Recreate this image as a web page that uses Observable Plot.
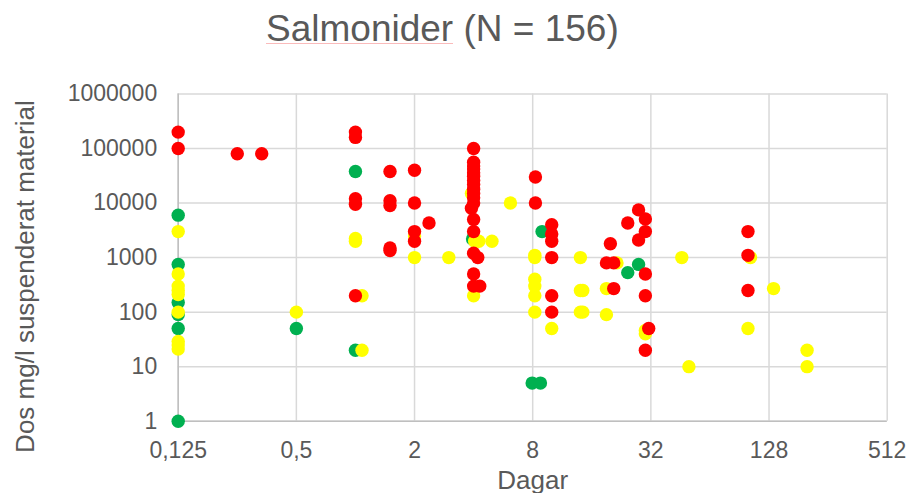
<!DOCTYPE html>
<html>
<head>
<meta charset="utf-8">
<script src="https://cdn.jsdelivr.net/npm/d3@7"></script>
<script src="https://cdn.jsdelivr.net/npm/@observablehq/plot@0.6"></script>
<style>
  body { margin: 0; background: #ffffff; }
  #wrap { position: relative; width: 911px; height: 493px; font-family: "Liberation Sans", Arial, sans-serif; }
  #title { position: absolute; left: 266px; top: 10.4px; font-size: 37px; line-height: 37px; color: #595959; white-space: nowrap; }
  #squiggle { position: absolute; height: 1px; background: rgba(240, 60, 60, 0.35); }
</style>
</head>
<body>
<div id="wrap">
  <div id="title"><span id="sp">Salmonider</span> (N = 156)</div>
  <div id="squiggle"></div>
</div>
<script>
// Tick values and labels
const xTicks = [0.125, 0.5, 2, 8, 32, 128, 512];
const xTickLabels = ["0,125", "0,5", "2", "8", "32", "128", "512"];
const yTicks = [1, 10, 100, 1000, 10000, 100000, 1000000];
const yTickLabels = ["1", "10", "100", "1000", "10000", "100000", "1000000"];

const xTitle = "Dagar";
const yTitle = "Dos mg/l suspenderat material";

// Series: [dagar, dos]
const green = [
  [0.125, 6000], [0.125, 750], [0.125, 150], [0.125, 90], [0.125, 50], [0.125, 1],
  [0.5, 50],
  [1, 38000], [1, 20],
  [3.95, 2200],
  [7.95, 5], [8.76, 5],
  [8.93, 3000],
  [24.4, 530], [27.7, 750]
];

const yellow = [
  [0.125, 3000], [0.125, 500], [0.125, 300], [0.125, 250], [0.125, 210], [0.125, 100],
  [0.125, 29], [0.125, 25], [0.125, 21],
  [0.5, 100],
  [1, 2000], [1, 2250], [1.08, 200], [1.08, 20],
  [2, 2500], [2, 1000],
  [2.99, 1000],
  [3.9, 15000], [4.05, 2000], [4.25, 2000], [4, 200],
  [4.96, 2000],
  [6.16, 10000],
  [8.2, 1100], [8.2, 1000], [8.2, 400], [8.2, 300], [8.2, 200], [8.2, 100],
  [10, 50],
  [14, 1000], [14, 250], [14.4, 250], [14, 100], [14.4, 100],
  [19, 270], [19, 90], [21.5, 800],
  [30, 46], [30, 40],
  [46, 1000], [50, 10],
  [103, 1000], [100, 50], [135, 270],
  [200, 20], [200, 10]
];

const red = [
  [0.125, 200000], [0.125, 100000],
  [0.25, 80000], [0.333, 80000],
  [1, 200000], [1, 160000], [1, 12000], [1, 9500], [1, 200],
  [1.5, 38000], [1.5, 11000], [1.5, 9000], [1.5, 1500], [1.5, 1350],
  [2, 40000], [2, 10000], [2, 3000], [2, 2000],
  [2.37, 4300],
  [4, 100000], [4, 56000], [4, 48000], [4, 42000], [4, 36000], [4, 31000], [4, 26000],
  [4, 22000], [4, 18000], [4, 15000], [4, 12500], [4, 10000], [3.9, 8000], [4, 5000],
  [4, 3000], [4, 1200], [4.2, 1000], [4, 500], [4, 300], [4.3, 300],
  [8.26, 30000], [8.26, 10000],
  [10, 4000], [10, 2700], [10, 2000], [10, 1000], [10, 200], [10, 100],
  [19.9, 1800], [19, 800], [20.7, 800], [20.7, 270],
  [24.4, 4300], [27.7, 7500], [30, 5100], [30, 3000], [27.7, 2100], [30, 500], [30, 200], [31.2, 50], [30, 20],
  [100, 3000], [100, 1100], [100, 250]
];

const colors = { green: "#00B050", yellow: "#FFFF00", red: "#FF0000" };
const textColor = "#595959";
const R = 6.7;

const chart = Plot.plot({
  width: 911,
  height: 493,
  marginTop: 93.5,
  marginBottom: 72.3,
  marginLeft: 177.7,
  marginRight: 24.3,
  style: { fontFamily: "'Liberation Sans', Arial, sans-serif", background: "transparent", color: textColor, overflow: "visible" },
  x: { type: "log", base: 2, domain: [0.125, 512] },
  y: { type: "log", domain: [1, 1000000] },
  marks: [
    Plot.ruleX(xTicks, { stroke: "#d9d9d9", strokeWidth: 1.5 }),
    Plot.ruleY(yTicks, { stroke: "#d9d9d9", strokeWidth: 1.5 }),
    Plot.ruleX([xTicks[0]], { stroke: "#bfbfbf", strokeWidth: 1.5 }),
    Plot.ruleY([yTicks[0]], { stroke: "#bfbfbf", strokeWidth: 1.5 }),
    Plot.axisX({ ticks: xTicks, tickFormat: d => xTickLabels[xTicks.indexOf(d)], tickSize: 0, tickPadding: 20, fontSize: 23, label: null, fill: textColor }),
    Plot.axisY({ ticks: yTicks, tickFormat: d => yTickLabels[yTicks.indexOf(d)], tickSize: 0, tickPadding: 21, fontSize: 23, label: null, fill: textColor }),
    Plot.dot(green, { x: d => d[0], y: d => d[1], r: R, fill: colors.green }),
    Plot.dot(yellow, { x: d => d[0], y: d => d[1], r: R, fill: colors.yellow }),
    Plot.dot(red, { x: d => d[0], y: d => d[1], r: R, fill: colors.red }),
    Plot.text([xTitle], { text: d => d, frameAnchor: "bottom", dy: 67.6, lineAnchor: "bottom", textAnchor: "middle", fontSize: 26, fill: textColor }),
    Plot.text([yTitle], { text: d => d, frameAnchor: "left", rotate: -90, dx: -144.7, dy: 19, lineAnchor: "bottom", textAnchor: "middle", fontSize: 26, fill: textColor })
  ]
});
chart.style.position = "absolute";
chart.style.left = "0px";
chart.style.top = "0px";
const wrap = document.getElementById("wrap");
wrap.insertBefore(chart, wrap.firstChild);

// faint proofing underline below the first word of the title
const sp = document.getElementById("sp").getBoundingClientRect();
const sq = document.getElementById("squiggle");
sq.style.left = sp.left + "px";
sq.style.width = sp.width + "px";
sq.style.top = "43px";
</script>
</body>
</html>
